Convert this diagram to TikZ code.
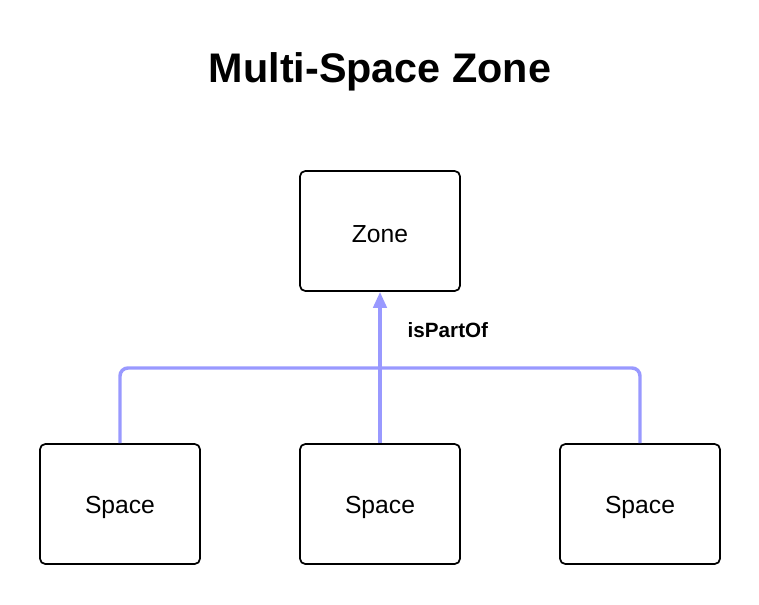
\documentclass[tikz,border=0pt]{standalone}
\usepackage{fontspec}
\setmainfont{Liberation Sans}
\usetikzlibrary{arrows.meta}
\definecolor{edge}{HTML}{9999FF}
\begin{document}
\begin{tikzpicture}[x=0.75pt,y=-0.75pt,
  box/.style={draw,line width=1.3pt,rounded corners=4pt,minimum width=120pt,minimum height=90pt},
  lab/.style={font=\fontsize{18.5}{22}\selectfont},
  link/.style={draw=edge,line width=2.6pt,rounded corners=6pt}]
\useasboundingbox (0,0) rectangle (759,604);
\node[font=\bfseries\fontsize{31}{36}\selectfont] (title) at (380,72) {Multi-Space Zone};
\node[box] (zone) at (380,231) {};
\node[lab] (zl) at (380,234) {Zone};
\node[box] (s1) at (120,504) {};
\node[box] (s2) at (380,504) {};
\node[box] (s3) at (640,504) {};
\node[lab] (l1) at (120,507) {Space};
\node[lab] (l2) at (380,507) {Space};
\node[lab] (l3) at (640,507) {Space};
\coordinate (j) at (380,368);
\draw[link] (s1.north) |- (j);
\draw[link] (s3.north) |- (j);
\draw[link,-{Triangle[length=12pt,width=10pt]}] (s2.north) -- (zone.south);
\node[font=\bfseries\fontsize{15.5}{18}\selectfont,anchor=west] (lbl) at (403,330) {isPartOf};
\end{tikzpicture}
\end{document}
